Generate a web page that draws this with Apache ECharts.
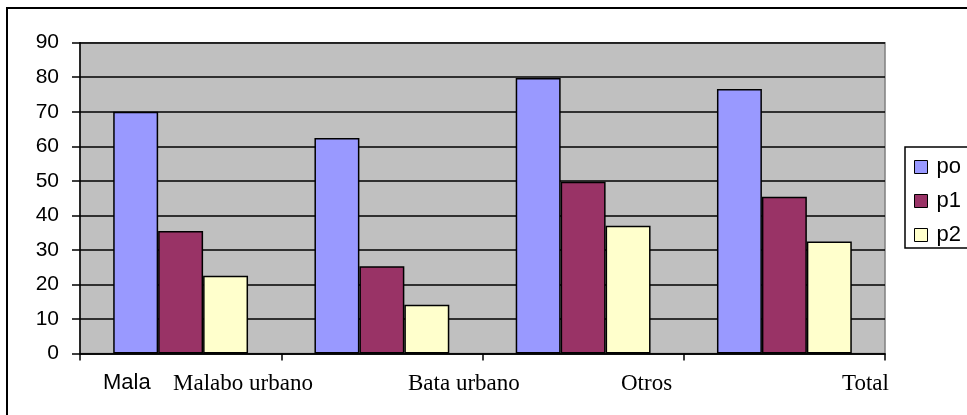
<!DOCTYPE html>
<html>
<head>
<meta charset="utf-8">
<script src="https://cdn.jsdelivr.net/npm/echarts@6/dist/echarts.min.js"></script>
<style>
  html, body { margin: 0; padding: 0; background: #fff; }
  #chart { width: 967px; height: 415px; }
</style>
</head>
<body>
<div id="chart"></div>
<script>
const categories = ['Malabo urbano', 'Bata urbano', 'Otros', 'Total']
const seriesNames = ['po', 'p1', 'p2']
const poValues = [70.0, 62.4, 79.8, 76.6]
const p1Values = [35.5, 25.3, 49.7, 45.4]
const p2Values = [22.5, 14.1, 37.0, 32.4]
const yTicks = [0, 10, 20, 30, 40, 50, 60, 70, 80, 90]

const colors = ['#9999FF', '#993366', '#FFFFCC']

const chart = echarts.init(document.getElementById('chart'))

// x labels sit off-centre in the original, so they are placed by hand
const xLabels = [
  { text: 'Mala', x: 103, font: '22px Arial' },
  { text: categories[0], x: 173, font: '23px "Liberation Serif"' },
  { text: categories[1], x: 408, font: '23px "Liberation Serif"' },
  { text: categories[2], x: 621, font: '23px "Liberation Serif"' },
  { text: categories[3], x: 842, font: '23px "Liberation Serif"' }
]

const makeBar = (name, data, i) => ({
  name,
  type: 'bar',
  data,
  barGap: 0,
  barCategoryGap: '33%',
  itemStyle: {
    color: colors[i],
    borderColor: '#000',
    borderWidth: 1.5
  },
  emphasis: { disabled: true }
})

chart.setOption({
  animation: false,
  grid: {
    left: 80,
    right: 82,
    top: 42.7,
    bottom: 61.5,
    show: true,
    backgroundColor: '#C0C0C0',
    borderColor: '#808080',
    borderWidth: 1.5
  },
  legend: {
    data: seriesNames,
    orient: 'vertical',
    left: 905,
    top: 147,
    padding: [9, 0, 5, 9],
    itemGap: 12,
    itemWidth: 13,
    itemHeight: 13,
    icon: 'rect',
    itemStyle: { borderColor: '#000', borderWidth: 1 },
    textStyle: {
      fontFamily: 'Arial',
      fontSize: 22,
      lineHeight: 22,
      color: '#000',
      padding: [0, 0, 0, 4]
    }
  },
  xAxis: {
    type: 'category',
    data: categories,
    axisLine: { lineStyle: { color: '#000', width: 1.5 } },
    axisTick: { show: true, length: 7, lineStyle: { color: '#000', width: 1.5 } },
    axisLabel: { show: false },
    splitLine: { show: false }
  },
  yAxis: {
    type: 'value',
    min: yTicks[0],
    max: yTicks[yTicks.length - 1],
    interval: 10,
    axisLine: { show: true, lineStyle: { color: '#000', width: 1.5 } },
    axisTick: { show: true, length: 8, lineStyle: { color: '#000', width: 1.5 } },
    axisLabel: {
      margin: 21,
      fontFamily: 'Arial',
      fontSize: 21,
      color: '#000'
    },
    splitLine: { show: true, lineStyle: { color: '#000', width: 1.5 } }
  },
  graphic: [
    {
      type: 'rect',
      shape: { x: 7, y: 8, width: 1200, height: 600 },
      style: { fill: 'none', stroke: '#000', lineWidth: 2 },
      silent: true,
      z: -1
    },
    // legend frame runs past the right edge of the picture
    {
      type: 'rect',
      shape: { x: 905, y: 147, width: 120, height: 101 },
      style: { fill: 'none', stroke: '#000', lineWidth: 1.5 },
      silent: true
    },
    ...xLabels.map(l => ({
      type: 'text',
      left: l.x,
      top: 372,
      style: { text: l.text, font: l.font, fill: '#000' },
      silent: true
    }))
  ],
  series: [
    makeBar(seriesNames[0], poValues, 0),
    makeBar(seriesNames[1], p1Values, 1),
    makeBar(seriesNames[2], p2Values, 2)
  ]
})
</script>
</body>
</html>
